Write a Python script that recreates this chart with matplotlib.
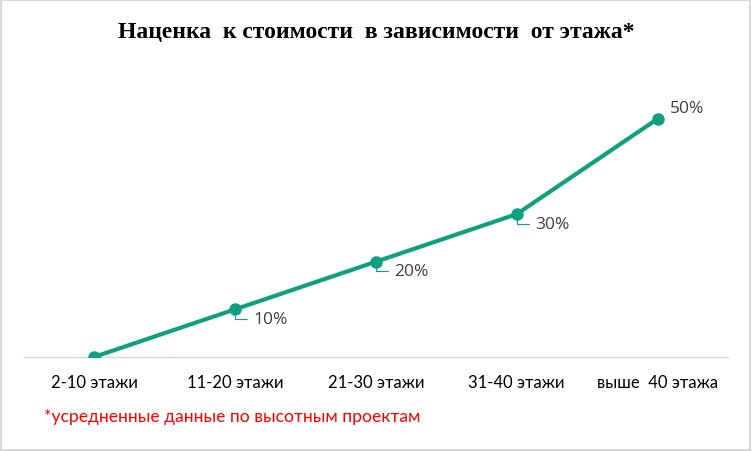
import matplotlib
matplotlib.use("Agg")
import matplotlib.pyplot as plt
from matplotlib.patches import Rectangle

# Data
categories = ["2-10 этажи", "11-20 этажи", "21-30 этажи", "31-40 этажи", "выше  40 этажа"]
markup = [0.0, 0.10, 0.20, 0.30, 0.50]
value_labels = ["", "10%", "20%", "30%", "50%"]

line_color = "#0fa080"
label_font = ["Lato", "DejaVu Sans"]
value_font = ["Open Sans", "DejaVu Sans"]

fig = plt.figure(figsize=(7.52, 4.52), dpi=100)
ax = fig.add_axes([0.0314, 0.208, 0.9366, 0.632])

x = list(range(len(categories)))
ax.plot(x, markup, color=line_color, linewidth=3, marker="o", markersize=8,
        solid_capstyle="round", zorder=3)

# Data labels with leader lines
for i, (xi, yi, lab) in enumerate(zip(x, markup, value_labels)):
    if not lab:
        continue
    if i == len(x) - 1:
        ax.annotate(lab, (xi, yi), xytext=(9, 8), textcoords="offset points",
                    fontsize=12.5, color="#404040", family=value_font,
                    va="center", ha="left")
    else:
        ax.annotate(lab, (xi, yi), xytext=(13, -7), textcoords="offset points",
                    fontsize=12.5, color="#404040", family=value_font,
                    va="center", ha="left",
                    arrowprops=dict(arrowstyle="-", color=line_color, lw=0.8,
                                    shrinkA=2, shrinkB=4,
                                    connectionstyle="angle,angleA=0,angleB=90,rad=0"))

ax.set_xlim(-0.5, 4.5)
ax.set_ylim(0, 0.6)
ax.set_xticks(x)
ax.set_xticklabels(categories, fontsize=12, family=label_font, color="black")
ax.tick_params(axis="x", length=0, pad=12)
ax.set_yticks([])
for side in ["top", "left", "right"]:
    ax.spines[side].set_visible(False)
ax.spines["bottom"].set_color("#d9d9d9")
ax.spines["bottom"].set_linewidth(1)
ax.patch.set_visible(False)

fig.text(0.5, 0.928, "Наценка  к стоимости  в зависимости  от этажа*",
         ha="center", va="center", fontsize=17, fontweight="bold",
         family=["Liberation Serif", "DejaVu Serif"])
fig.text(0.058, 0.077, "*усредненные данные по высотным проектам",
         ha="left", va="center", fontsize=12.6, color="#ff0000", family=label_font)

# Chart border
fig.patches.append(Rectangle((0.001, 0.002), 0.997, 0.995, transform=fig.transFigure,
                             fill=False, edgecolor="#d9d9d9", linewidth=1.5))

fig.savefig("out.png", dpi=100)
